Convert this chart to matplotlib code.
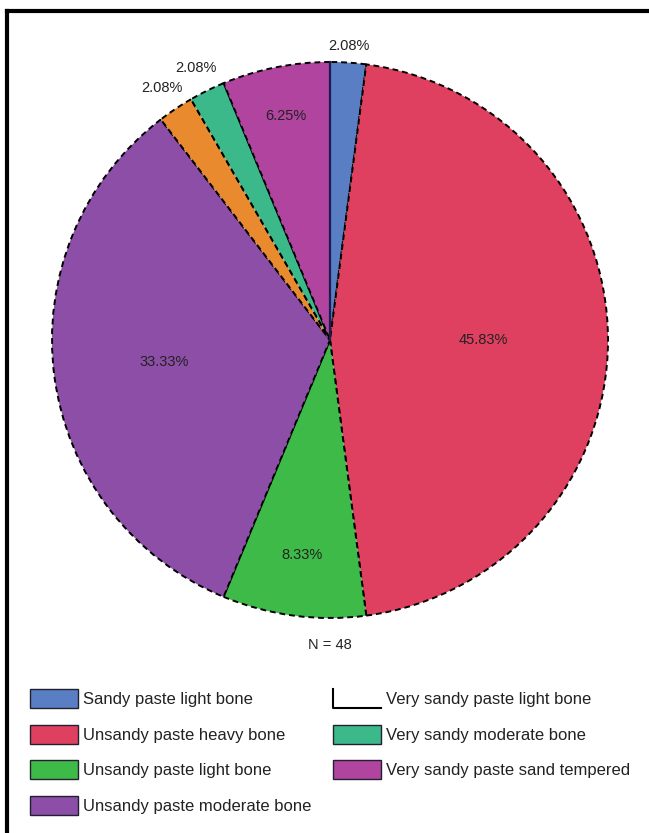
import numpy as np
import matplotlib.pyplot as plt
from matplotlib.lines import Line2D
from matplotlib.patches import Patch
from matplotlib.legend_handler import HandlerBase

plt.rcParams['font.family'] = ['Liberation Sans', 'DejaVu Sans']

# Data (N = 48), clockwise from 12 o'clock
categories = ['Sandy paste light bone', 'Unsandy paste heavy bone',
              'Unsandy paste light bone', 'Unsandy paste moderate bone',
              'Very sandy paste light bone', 'Very sandy moderate bone',
              'Very sandy paste sand tempered']
counts = [1, 22, 4, 16, 1, 1, 3]
pct_labels = ['2.08%', '45.83%', '8.33%', '33.33%', '2.08%', '2.08%', '6.25%']
colors = ['#5a7ec4', '#e0405f', '#3dba47', '#8c4ea6', '#ea8a2e', '#3cb98a', '#b0449f']
label_dist = [1.06, 0.55, 0.78, 0.60, 1.09, 1.09, 0.82]

W, H = 649, 833
fig = plt.figure(figsize=(W / 100, H / 100), dpi=100)
ax = fig.add_axes([0, 0, 1, 1])

cx, cy, r = 330, H - 340, 278

wedges, _ = ax.pie(counts, colors=colors, startangle=90, counterclock=False,
                   center=(cx, cy), radius=r, frame=True,
                   wedgeprops=dict(edgecolor='black', linewidth=1.4, linestyle=(0, (3, 2))))
ax.set_xlim(0, W)
ax.set_ylim(0, H)
ax.set_aspect('equal')
ax.axis('off')

# solid line at 12 o'clock
ax.plot([cx, cx], [cy, cy + r], color='#1c1c50', lw=1.6, zorder=5)

# percentage labels
for w, lab, d in zip(wedges, pct_labels, label_dist):
    ang = np.deg2rad((w.theta1 + w.theta2) / 2)
    ax.text(cx + d * r * np.cos(ang), cy + d * r * np.sin(ang), lab,
            ha='center', va='center', fontsize=10.5, color='#222222')

ax.text(cx, H - 645, 'N = 48', ha='center', va='center', fontsize=10.5, color='#222222')

# frame lines (left and top)
fig.add_artist(Line2D([7 / W, 7 / W], [0, 1 - 11 / H], color='black', lw=3))
fig.add_artist(Line2D([7 / W, 1], [1 - 11 / H, 1 - 11 / H], color='black', lw=3))


class LHandler(HandlerBase):
    def create_artists(self, legend, orig_handle, xdescent, ydescent,
                       width, height, fontsize, trans):
        x0, y0 = -xdescent, -ydescent
        ln = Line2D([x0, x0, x0 + width], [y0 + height, y0, y0],
                    color='black', lw=1.5, transform=trans)
        return [ln]


handles = []
for i, (c, name) in enumerate(zip(colors, categories)):
    if i == 4:
        handles.append(Line2D([], [], color='black'))
    else:
        handles.append(Patch(facecolor=c, edgecolor='#202030', linewidth=1))

leg = fig.legend(handles, categories, loc='upper left', ncol=2,
                 bbox_to_anchor=(15 / W, 1 - 674 / H), frameon=False,
                 fontsize=12, handlelength=2.9, handleheight=1.4,
                 handletextpad=0.3, labelspacing=0.98, columnspacing=1.25,
                 labelcolor='#222222',
                 handler_map={handles[4]: LHandler()})

fig.savefig('out.png', dpi=100)
